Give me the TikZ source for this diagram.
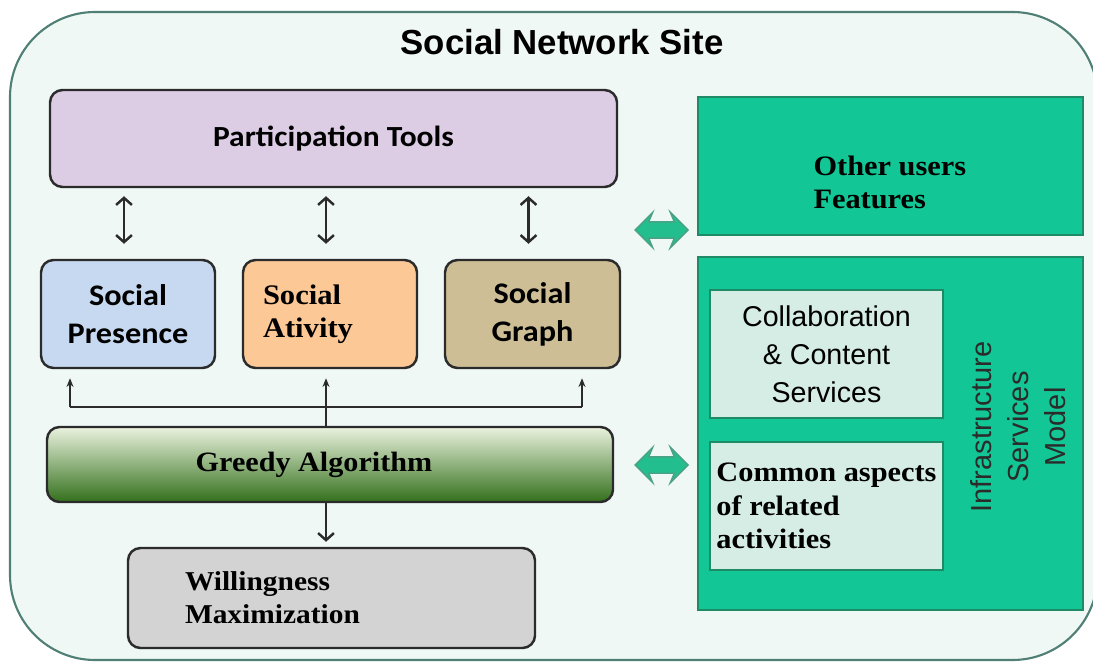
\documentclass[tikz,border=0pt]{standalone}
\usepackage{fontspec}
\setmainfont[FakeStretch=1.08]{Liberation Serif}
\newfontfamily\calfont[FakeStretch=1.08]{Carlito}
\newfontfamily\arialfont{Liberation Sans}
\usetikzlibrary{shapes, shapes.arrows, arrows.meta, calc, positioning}
\definecolor{sitebg}{HTML}{EFF8F5}
\definecolor{siteline}{HTML}{4F7F75}
\definecolor{boxline}{HTML}{2B2B2B}
\definecolor{toolslilac}{HTML}{DCCDE5}
\definecolor{presblue}{HTML}{C6D9F0}
\definecolor{actorange}{HTML}{FBC896}
\definecolor{graphtan}{HTML}{CDBE96}
\definecolor{willgray}{HTML}{D3D3D3}
\definecolor{servteal}{HTML}{12C795}
\definecolor{servline}{HTML}{1E8A66}
\definecolor{servmint}{HTML}{D5EDE5}
\definecolor{linkteal}{HTML}{22BE8E}
\definecolor{greedytop}{HTML}{EAF2DE}
\definecolor{greedymid}{HTML}{86B552}
\definecolor{greedybot}{HTML}{33701C}

\begin{document}
\begin{tikzpicture}[
        soft/.style={draw=boxline, line width=1.4pt, rounded corners=0.25cm},
        flat/.style={draw=servline, line width=0.8pt},
        link/.style={double arrow, draw=servline!80, fill=linkteal, line width=0.8pt, minimum height=1.06cm,
                     inner sep=0.15cm, double arrow head extend=0.19cm, double arrow head indent=0.08cm},
        tip/.style={-{Stealth[length=5pt, width=4pt]}, line width=0.9pt, color=boxline},
        barb/.style={{Straight Barb[length=4pt, width=9pt]}-{Straight Barb[length=4pt, width=9pt]}, line width=1.4pt, color=boxline}
    ]
        \useasboundingbox (0,0) rectangle (21.86,13.3);
        \draw[draw=siteline, line width=1.2pt, fill=sitebg, rounded corners=1.7cm] (0.2,0.1) rectangle (21.95,13.06);

        \node[font=\arialfont\bfseries\fontsize{19.8}{24}\selectfont] (title) at (11.24,12.45) {Social Network Site};

        % left column
        \node[soft, fill=toolslilac, minimum width=11.34cm, minimum height=1.94cm, font=\calfont\bfseries\fontsize{16.6}{20}\selectfont] (PT) at (6.67,10.53) {Participation Tools};

        \node[soft, fill=presblue, minimum width=3.48cm, minimum height=2.16cm, align=center, font=\calfont\bfseries\fontsize{17}{21.5}\selectfont] (SP) at (2.56,7.02) {Social\\Presence};
        \node[soft, fill=actorange, minimum width=3.48cm, minimum height=2.16cm, inner xsep=0.4cm, text width=2.68cm, align=left, font=\bfseries\fontsize{16.1}{18.7}\selectfont] (SA) at (6.6,7.02) {Social\\Ativity};
        \node[soft, fill=graphtan, minimum width=3.5cm, minimum height=2.16cm, align=center, font=\calfont\bfseries\fontsize{17}{21.5}\selectfont] (SG) at (10.65,7.02) {Social\\Graph};

        \node[soft, top color=greedytop, middle color=greedymid, bottom color=greedybot, minimum width=11.32cm, minimum height=1.5cm, font=\bfseries\fontsize{15.9}{19}\selectfont] (GA) at (6.6,4.01) {Greedy Algorithm\kern0.64cm};

        \node[soft, fill=willgray, minimum width=8.14cm, minimum height=2.0cm, inner xsep=1.14cm, text width=5.86cm, align=left, font=\bfseries\fontsize{15.5}{18.7}\selectfont] (WM) at (6.63,1.34) {Willingness\\Maximization};

        % right column
        \node[flat, fill=servteal, minimum width=7.7cm, minimum height=2.76cm] (OU) at (17.81,9.98) {};
        \node[anchor=west, align=left, font=\bfseries\fontsize{16}{18.7}\selectfont] (OUtxt) at ($(OU.west)+(2.2,-0.32)$) {Other users\\Features};
        \node[flat, fill=servteal, minimum width=7.7cm, minimum height=7.06cm] (IS) at (17.81,4.63) {};
        \node[flat, fill=servmint, minimum width=4.66cm, minimum height=2.56cm, align=center, font=\arialfont\fontsize{16.3}{21.5}\selectfont] (CC) at (16.53,6.22) {Collaboration\\\& Content\\Services};
        \node[flat, fill=servmint, minimum width=4.66cm, minimum height=2.56cm, inner xsep=0.08cm, align=left, font=\bfseries\fontsize{16}{19}\selectfont] (CA) at (16.53,3.18) {Common aspects\\of related\\activities};
        \node[rotate=90, align=center, font=\arialfont\fontsize{16.5}{21}\selectfont, text=boxline] (ISM) at (20.36,4.76) {Infrastructure\\Services\\Model};

        % links between the columns
        \node[link] (L1) at (13.23,8.7) {};
        \node[link] (L2) at (13.23,4.0) {};

        % tools to the three social boxes
        \foreach \soc in {SP, SA, SG}
            \draw[barb, shorten <=0.16cm, shorten >=0.3cm] ($(PT.south -| \soc.north)+(-0.08,0)$) -- ($(\soc.north)+(-0.08,0)$);

        % greedy algorithm feeds the social boxes
        \coordinate (busL) at (1.4,5.16);
        \coordinate (busR) at (11.64,5.16);
        \draw[line width=0.9pt, color=boxline] (busL) -- (busR);
        \draw[tip, shorten >=0.18cm] (busL) -- (busL |- SP.south);
        \draw[tip, shorten >=0.18cm] (busR) -- (busR |- SG.south);
        \draw[tip, shorten >=0.18cm] ($(GA.north -| SA.south)+(-0.08,0)$) -- ($(SA.south)+(-0.08,0)$);
        \draw[{Straight Barb[length=4pt, width=9pt]}-, line width=1.4pt, color=boxline, shorten <=0.1cm] ($(WM.north -| SA.south)+(-0.08,0)$) -- ($(GA.south -| SA.south)+(-0.08,0)$);
    \end{tikzpicture}
\end{document}
